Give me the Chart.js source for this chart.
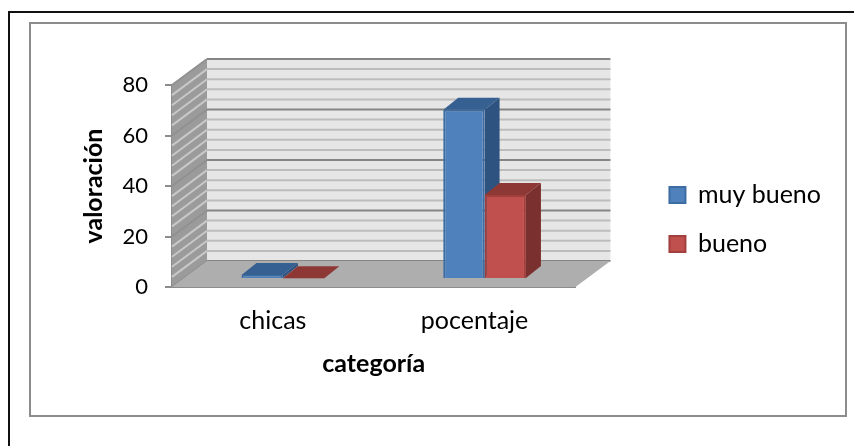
<!DOCTYPE html>
<html>
<head>
<meta charset="utf-8">
<style>
  html, body { margin: 0; padding: 0; background: #fff; overflow: hidden; }
  #outer { position: absolute; left: 8px; top: 11px; width: 900px; height: 500px; border: 2px solid #111; }
  #inner { position: absolute; left: 29px; top: 22px; width: 814px; height: 391px; border: 2px solid #8c8c8c; }
  canvas { position: absolute; left: 0; top: 0; }
</style>
<script src="https://cdn.jsdelivr.net/npm/chart.js@4"></script>
</head>
<body>
<div id="outer"></div>
<div id="inner"></div>
<canvas id="myChart" width="854" height="446"></canvas>
<script>
const categories = ['chicas', 'pocentaje'];
const muyBueno = [1.6, 67];
const bueno = [0.3, 33.3];
const minorTicks = [4, 8, 12, 16, 24, 28, 32, 36, 44, 48, 52, 56, 64, 68, 72, 76];
const majorTicks = [0, 20, 40, 60, 80];

// depth of the fake 3D box, and of the bars inside it
const wallDx = 35, wallDy = -26;
const barDx = 10, barDy = -8;
const faceDx = 15, faceDy = -12;

const faceColors = [
  { top: '#376092', side: '#2f5380' },
  { top: '#8e3836', side: '#7a302e' }
];

function poly(ctx, pts, fill) {
  ctx.beginPath();
  pts.forEach((p, i) => i ? ctx.lineTo(p[0], p[1]) : ctx.moveTo(p[0], p[1]));
  ctx.closePath();
  ctx.fillStyle = fill;
  ctx.fill();
}

function wallLine(ctx, yScale, xScale, value, sideColor, backColor) {
  const y = yScale.getPixelForValue(value);
  ctx.lineWidth = 2;
  ctx.strokeStyle = sideColor;
  ctx.beginPath();
  ctx.moveTo(xScale.left, y);
  ctx.lineTo(xScale.left + wallDx, y + wallDy);
  ctx.stroke();
  ctx.strokeStyle = backColor;
  ctx.beginPath();
  ctx.moveTo(xScale.left + wallDx, y + wallDy);
  ctx.lineTo(xScale.right + wallDx, y + wallDy);
  ctx.stroke();
}

const box3d = {
  id: 'box3d',
  afterLayout(chart) {
    // legend sits further right than the plot edge
    chart.legend.left += 70;
    chart.legend.right += 70;
    chart.legend.top -= 46;
    chart.legend.bottom -= 46;
  },
  beforeDatasetsDraw(chart) {
    const ctx = chart.ctx;
    const x = chart.scales.x, y = chart.scales.y;
    const top = y.getPixelForValue(80), bot = y.getPixelForValue(0);
    const l = x.left, r = x.right;

    ctx.save();
    poly(ctx, [[l + wallDx, top + wallDy], [r + wallDx, top + wallDy], [r + wallDx, bot + wallDy], [l + wallDx, bot + wallDy]], '#e6e6e6');
    poly(ctx, [[l, top], [l + wallDx, top + wallDy], [l + wallDx, bot + wallDy], [l, bot]], '#9b9b9b');
    minorTicks.forEach(v => wallLine(ctx, y, x, v, '#c8c8c8', '#bcbcbc'));
    majorTicks.forEach(v => wallLine(ctx, y, x, v, '#919191', '#858585'));
    poly(ctx, [[l, bot], [l + wallDx, bot + wallDy], [r + wallDx, bot + wallDy], [r, bot]], '#aeaeae');
    ctx.restore();

    ctx.save();
    ctx.translate(barDx, barDy);
    for (let c = 0; c < categories.length; c++) {
      chart.data.datasets.forEach((ds, i) => {
        const bar = chart.getDatasetMeta(i).data[c];
        const x0 = bar.x - bar.width / 2, x1 = bar.x + bar.width / 2;
        poly(ctx, [[x1, bar.y], [x1 + faceDx, bar.y + faceDy], [x1 + faceDx, bar.base + faceDy], [x1, bar.base]], faceColors[i].side);
        poly(ctx, [[x0, bar.y], [x1, bar.y], [x1 + faceDx, bar.y + faceDy], [x0 + faceDx, bar.y + faceDy]], faceColors[i].top);
      });
    }
  },
  afterDatasetsDraw(chart) {
    chart.ctx.restore();
  }
};

const myChart = new Chart(document.getElementById('myChart'), {
  type: 'bar',
  data: {
    labels: categories,
    datasets: [
      { label: 'muy bueno', data: muyBueno, backgroundColor: '#4f81bd', borderColor: '#3d6ca3', borderWidth: 2, clip: false },
      { label: 'bueno', data: bueno, backgroundColor: '#c0504d', borderColor: '#a03f3d', borderWidth: 2, clip: false }
    ]
  },
  plugins: [box3d],
  options: {
    responsive: false,
    animation: false,
    layout: { padding: { top: 85, right: 93 } },
    datasets: { bar: { categoryPercentage: 0.41, barPercentage: 1 } },
    scales: {
      x: {
        afterFit: s => { s.height = 159; },
        grid: { display: true, drawOnChartArea: false, drawTicks: false },
        border: { color: '#8c8c8c', width: 2 },
        ticks: { color: '#000', font: { family: 'Lato', size: 25 }, padding: 19 },
        title: { display: true, text: 'categoría', color: '#000', font: { family: 'Lato', size: 25, weight: 'bold' }, padding: { top: 0, bottom: 67 } }
      },
      y: {
        min: 0,
        max: 80,
        afterFit: s => { s.width = 172; },
        grid: { drawOnChartArea: false, drawTicks: true, tickLength: 7, color: '#8c8c8c', lineWidth: 2 },
        border: { color: '#8c8c8c', width: 2 },
        ticks: { stepSize: 20, color: '#000', font: { family: 'Lato', size: 22 }, padding: 17 },
        title: { display: true, text: 'valoración', color: '#000', font: { family: 'Lato', size: 25, weight: 'bold' }, padding: { top: 79, bottom: 0 } }
      }
    },
    plugins: {
      tooltip: { enabled: false },
      legend: {
        position: 'right',
        labels: { boxWidth: 16, boxHeight: 16, padding: 24, color: '#000', font: { family: 'Lato', size: 25 } }
      }
    }
  }
});
</script>
</body>
</html>
